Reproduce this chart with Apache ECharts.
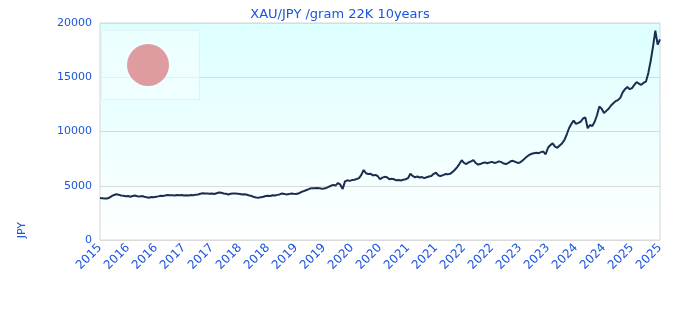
<!DOCTYPE html>
<html>
<head>
<meta charset="utf-8">
<script src="https://cdn.jsdelivr.net/npm/echarts@6/dist/echarts.min.js"></script>
<style>
  html, body { margin: 0; padding: 0; background: #fff; }
  #main { width: 680px; height: 320px; }
</style>
</head>
<body>
<div id="main"></div>
<script>
// semi-monthly samples, Oct 2015 .. Oct 2025
var startYear = 2015, startMonth = 10;
var yTicks = [0, 5000, 10000, 15000, 20000];
var prices = [
  3880, 3850, 3820, 3830, 3900, 4050, 4150, 4220, 4180, 4100,
  4080, 4040, 4060, 3990, 4050, 4100, 4030, 4000, 4060, 3990,
  3940, 3900, 3960, 3940, 3980, 4020, 4080, 4050, 4110, 4140,
  4120, 4130, 4100, 4140, 4120, 4150, 4110, 4130, 4100, 4150,
  4120, 4180, 4200, 4260, 4300, 4280, 4290, 4260, 4280, 4240,
  4310, 4380, 4350, 4290, 4260, 4200, 4260, 4290, 4280, 4270,
  4240, 4200, 4220, 4170, 4100, 4050, 3960, 3920, 3900, 3950,
  3980, 4050, 4080, 4060, 4120, 4100, 4160, 4200, 4280, 4250,
  4200, 4230, 4280, 4260, 4250, 4280, 4400, 4480, 4560, 4650,
  4740, 4780, 4760, 4800, 4780, 4730, 4750, 4800, 4900, 5000,
  5080, 5030, 5250, 5100, 4700, 5400, 5500, 5450, 5520, 5560,
  5620, 5700, 6000, 6450, 6150, 6080, 6100, 5950, 6000, 5900,
  5600, 5750, 5820, 5780, 5600, 5650, 5600, 5500, 5520, 5480,
  5560, 5600, 5700, 6100, 5900, 5780, 5850, 5760, 5800, 5700,
  5780, 5850, 5900, 6100, 6200, 5950, 5900, 5980, 6080, 6050,
  6100, 6250, 6450, 6700, 7000, 7350, 7100, 7000, 7150, 7250,
  7370, 7100, 6950, 7000, 7100, 7150, 7080, 7150, 7200, 7100,
  7150, 7250, 7180, 7050, 7000, 7100, 7250, 7300, 7200, 7100,
  7150, 7300, 7500, 7700, 7850, 7950, 8000, 8050, 8000, 8100,
  8150, 7900, 8500, 8750, 8900, 8600, 8500, 8700, 8900, 9200,
  9700, 10300, 10700, 11000, 10700, 10800, 10900, 11200, 11300, 10300,
  10600, 10500, 10900, 11500, 12300, 12100, 11700, 11900, 12100, 12400,
  12600, 12800, 12900, 13100, 13600, 13900, 14100, 13900, 14000, 14300,
  14550, 14400, 14300, 14500, 14600, 15400, 16500, 17800, 19300, 18000,
  18500
];

var dates = [];
for (var i = 0; i < prices.length; i++) {
  var m = startMonth - 1 + Math.floor(i / 2);
  var y = startYear + Math.floor(m / 12);
  var mm = (m % 12) + 1;
  dates.push(y + '-' + (mm < 10 ? '0' : '') + mm + '-' + (i % 2 ? '16' : '01'));
}

var blue = '#1a56db';
var myChart = echarts.init(document.getElementById('main'));
option = {
    backgroundColor: '#fff',
    textStyle: { fontFamily: 'DejaVu Sans' },
    title: {
        text: 'XAU/JPY /gram 22K 10years',
        left: 'center',
        top: 3,
        textStyle: { color: blue, fontSize: 13, fontWeight: 'normal' }
    },
    grid: {
        left: 100, right: 20, top: 23, bottom: 80,
        show: true,
        borderColor: '#d6d6d6',
        borderWidth: 1,
        backgroundColor: new echarts.graphic.LinearGradient(0, 0, 0, 1, [
            { offset: 0, color: '#dcffff' },
            { offset: 1, color: '#ffffff' }
        ])
    },
    graphic: [
        {
            type: 'rect', left: 101, top: 30, z: 1,
            shape: { width: 98, height: 69 },
            style: { fill: 'rgba(245,255,255,0.6)', stroke: '#e2f2f2', lineWidth: 1 }
        },
        {
            type: 'circle', left: 127, top: 44, z: 1,
            shape: { r: 21 },
            style: { fill: '#de9ca1' }
        },
        {
            type: 'text', left: 17, top: 222, rotation: Math.PI / 2,
            style: { text: 'JPY', fill: blue, font: '11px "DejaVu Sans"' }
        }
    ],
    xAxis: {
        type: 'category',
        data: dates,
        boundaryGap: false,
        axisLine: { show: false },
        axisTick: { show: false },
        axisLabel: {
            color: blue, fontSize: 12, rotate: 45, interval: 11, margin: 6,
            formatter: function (v) { return v.slice(0, 4); }
        },
        splitLine: { show: false }
    },
    yAxis: {
        type: 'value',
        min: yTicks[0],
        max: yTicks[yTicks.length - 1],
        interval: 5000,
        axisLine: { show: false },
        axisTick: { show: false },
        axisLabel: {
            color: blue, fontSize: 11, margin: 8,
            formatter: function (v) { return String(v); }
        },
        splitLine: { lineStyle: { color: '#dadada' } }
    },
    series: [
        {
            name: 'XAU/JPY',
            type: 'line',
            data: prices,
            symbol: 'none',
            z: 5,
            lineStyle: { color: '#1b2d50', width: 2 }
        }
    ]
};
myChart.setOption(option);
</script>
</body>
</html>
